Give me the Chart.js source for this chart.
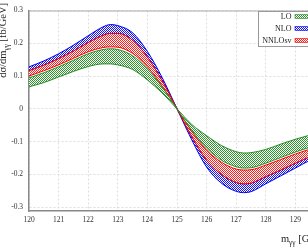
<!DOCTYPE html>
<html>
<head>
<meta charset="utf-8">
<script src="https://cdn.jsdelivr.net/npm/chart.js@4.4.1/dist/chart.umd.min.js"></script>
<style>
  html, body { margin: 0; padding: 0; overflow: hidden; background: #fff; }
  #bandChart { display: block; }
</style>
</head>
<body>
<canvas id="bandChart" width="340" height="250"></canvas>
<script>
// invariant mass points (GeV)
var massPoints = [120, 120.5, 121, 121.5, 122, 122.5, 122.75, 123, 123.5, 124, 124.5, 125,
                  125.5, 126, 126.5, 127, 127.25, 127.5, 128, 128.5, 129, 129.5, 130];

// LO band (green): edge nearest zero, outer edge
var loInner = [0.067, 0.080, 0.097, 0.114, 0.129, 0.137, 0.137, 0.134, 0.120, 0.088, 0.048, 0,
               -0.048, -0.082, -0.112, -0.131, -0.135, -0.134, -0.124, -0.108, -0.093, -0.080, -0.069];
var loOuter = [0.094, 0.110, 0.128, 0.148, 0.168, 0.181, 0.183, 0.181, 0.162, 0.122, 0.066, 0,
               -0.066, -0.120, -0.157, -0.177, -0.181, -0.180, -0.166, -0.149, -0.132, -0.117, -0.104];
// NNLOsv band (red)
var nnloInner = [0.100, 0.116, 0.134, 0.154, 0.174, 0.187, 0.189, 0.188, 0.169, 0.128, 0.069, 0,
                 -0.069, -0.126, -0.163, -0.184, -0.187, -0.186, -0.172, -0.155, -0.138, -0.123, -0.110];
var nnloOuter = [0.116, 0.133, 0.153, 0.176, 0.202, 0.224, 0.230, 0.230, 0.209, 0.158, 0.085, 0,
                 -0.085, -0.157, -0.200, -0.225, -0.229, -0.227, -0.207, -0.187, -0.166, -0.146, -0.130];
// NLO band (blue), only the outer edge shows above the red band
var nloOuter = [0.128, 0.146, 0.168, 0.194, 0.223, 0.250, 0.257, 0.254, 0.232, 0.175, 0.095, 0,
                -0.095, -0.178, -0.227, -0.252, -0.256, -0.253, -0.229, -0.205, -0.181, -0.157, -0.140];

var yTicks = [-0.3, -0.2, -0.1, 0, 0.1, 0.2, 0.3];
var legendNames = ['LO', 'NLO', 'NNLOsv'];

function checker(color) {
    var c = document.createElement('canvas');
    c.width = 2; c.height = 2;
    var g = c.getContext('2d');
    g.fillStyle = '#ffffff';
    g.fillRect(0, 0, 2, 2);
    g.fillStyle = color;
    g.fillRect(0, 0, 1, 1);
    g.fillRect(1, 1, 1, 1);
    return g.createPattern(c, 'repeat');
}

function pts(arr) {
    return arr.map(function (v, i) { return { x: massPoints[i], y: v }; });
}

var SERIF = "'Liberation Serif', 'DejaVu Serif', serif";

// draws text with a subscript part: [[text, isSub], ...]
function drawParts(ctx, parts, size) {
    var x = 0;
    parts.forEach(function (p) {
        var s = p[1] ? size * 0.7 : size;
        ctx.font = s + 'px ' + SERIF;
        ctx.fillText(p[0], x, p[1] ? size * 0.3 : 0);
        x += ctx.measureText(p[0]).width;
    });
    return x;
}
function partsWidth(ctx, parts, size) {
    var w = 0;
    parts.forEach(function (p) {
        ctx.font = (p[1] ? size * 0.7 : size) + 'px ' + SERIF;
        w += ctx.measureText(p[0]).width;
    });
    return w;
}

var decorPlugin = {
    id: 'decor',
    afterDraw: function (chart) {
        var ctx = chart.ctx;
        var area = chart.chartArea;
        var green = checker('#2f962f'), blue = checker('#1414ff'), red = checker('#ff2020');

        // top frame line
        ctx.save();
        ctx.strokeStyle = '#aaaaaa';
        ctx.lineWidth = 1;
        ctx.beginPath();
        ctx.moveTo(area.left, area.top + 0.5);
        ctx.lineTo(area.right, area.top + 0.5);
        ctx.stroke();

        // legend
        ctx.fillStyle = '#ffffff';
        ctx.fillRect(258.5, 11.5, 80, 35);
        ctx.strokeStyle = '#999999';
        ctx.strokeRect(258.5, 11.5, 80, 35);
        var fills = [green, blue, red];
        var edges = ['#2a8a2a', '#0000ee', '#ee0000'];
        ctx.font = '8px ' + SERIF;
        ctx.textAlign = 'right';
        ctx.textBaseline = 'middle';
        legendNames.forEach(function (name, i) {
            var cy = 16.5 + i * 12;
            ctx.fillStyle = '#222222';
            ctx.fillText(name, 291.5, cy);
            ctx.fillStyle = fills[i];
            ctx.fillRect(295, cy - 2, 18, 4);
            ctx.strokeStyle = edges[i];
            ctx.lineWidth = 0.6;
            ctx.strokeRect(295, cy - 2, 18, 4);
        });

        // axis titles
        ctx.fillStyle = '#222222';
        ctx.textAlign = 'left';
        ctx.textBaseline = 'alphabetic';
        var xt = [['m', false], ['\u03b3\u03b3', true], [' [GeV]', false]];
        ctx.save();
        ctx.translate(area.right - partsWidth(ctx, xt, 10.5), 242);
        drawParts(ctx, xt, 10.5);
        ctx.restore();

        var yt = [['d\u03c3/dm', false], ['\u03b3\u03b3', true], [' [fb/GeV]', false]];
        ctx.save();
        ctx.translate(6, 3 + partsWidth(ctx, yt, 10.5));
        ctx.rotate(-Math.PI / 2);
        drawParts(ctx, yt, 10.5);
        ctx.restore();
        ctx.restore();
    }
};

document.addEventListener('DOMContentLoaded', function () {
    var ctx = document.getElementById('bandChart').getContext('2d');
    var greenFill = checker('#2f962f');
    var blueFill = checker('#1414ff');
    var redFill = checker('#ff2020');

    function edge(data, color, order, fill, bg) {
        return {
            data: pts(data),
            borderColor: color,
            borderWidth: 1,
            pointRadius: 0,
            cubicInterpolationMode: 'monotone',
            fill: fill,
            backgroundColor: bg || 'transparent',
            order: order
        };
    }

    var bandChart = new Chart(ctx, {
        type: 'line',
        data: {
            datasets: [
                edge(loInner, '#2a8a2a', 1, false),
                edge(loOuter, '#2a8a2a', 1, '-1', greenFill),
                edge(nnloInner, '#ee0000', 2, false),
                edge(nnloOuter, '#ee0000', 2, '-1', redFill),
                edge(nnloOuter, '#0000ee', 3, false),
                edge(nloOuter, '#0000ee', 3, '-1', blueFill)
            ]
        },
        options: {
            responsive: false,
            animation: false,
            layout: { padding: { top: 7, right: 15, left: 0, bottom: 0 } },
            plugins: {
                legend: { display: false },
                tooltip: { enabled: false }
            },
            scales: {
                x: {
                    type: 'linear',
                    min: 120,
                    max: 130,
                    afterFit: function (scale) { scale.height = 39; },
                    ticks: {
                        stepSize: 1,
                        padding: 5,
                        color: '#333333',
                        font: { family: SERIF, size: 7.5 }
                    },
                    grid: { color: '#dddddd', drawTicks: false },
                    border: { color: '#888888', width: 1.5, dash: [2, 2] }
                },
                y: {
                    min: -0.312,
                    max: 0.3,
                    afterFit: function (scale) { scale.width = 29; },
                    afterBuildTicks: function (scale) {
                        scale.ticks = yTicks.map(function (v) { return { value: v }; });
                    },
                    ticks: {
                        padding: 6,
                        color: '#333333',
                        font: { family: SERIF, size: 7.5 },
                        callback: function (v) { return String(Math.round(v * 10) / 10); }
                    },
                    grid: { color: '#dddddd', drawTicks: false },
                    border: { color: '#888888', width: 1.5, dash: [2, 2] }
                }
            }
        },
        plugins: [decorPlugin]
    });
});
</script>
</body>
</html>
